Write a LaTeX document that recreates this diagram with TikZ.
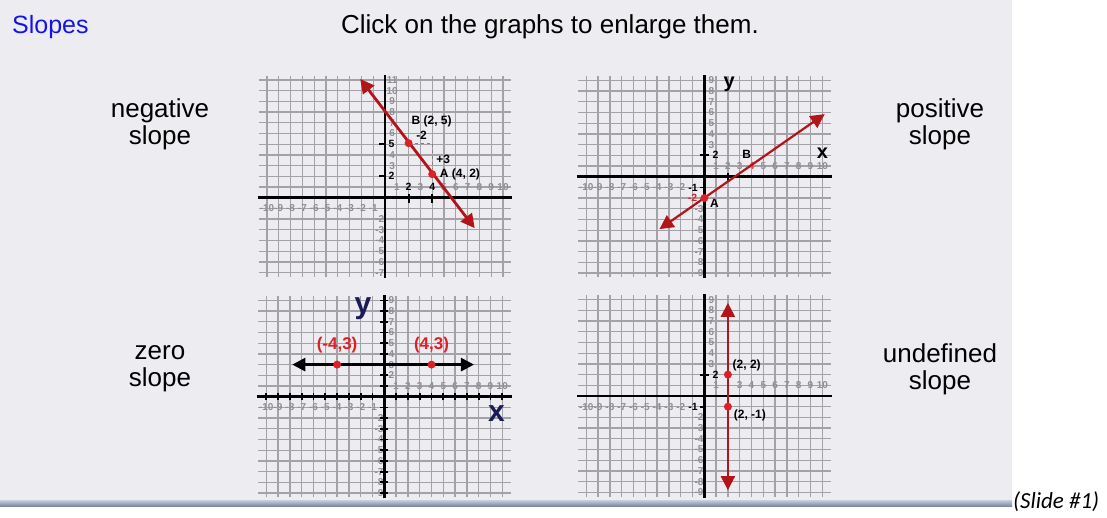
\documentclass[tikz,border=0pt]{standalone}
\usepackage{fontspec}
\setmainfont{Liberation Sans}
\newfontfamily\notefont{Carlito}
\usepackage{tikz}
\usetikzlibrary{arrows.meta}
\definecolor{slidebg}{HTML}{EDECF1}
\definecolor{gridgray}{HTML}{A2A2A7}
\definecolor{ticktext}{HTML}{8E8E94}
\definecolor{slopered}{HTML}{B3141C}
\definecolor{dotred}{HTML}{DD2027}
\definecolor{titleblue}{HTML}{1414E6}
\definecolor{axisnavy}{HTML}{1B1B55}
\definecolor{rulelight}{HTML}{C9D0DE}
\definecolor{ruledark}{HTML}{7D89A3}

% run #3 unless the label #1 is in the list #2
\makeatletter
\newcommand{\unlessbold}[3]{%
  \edef\boldtest{\noexpand\in@{,#1,}{,#2,}}\boldtest
  \ifin@\let\boldrun\relax\else\def\boldrun{#3}\fi\boldrun}
\makeatother

% one sheet of graph paper: #1 name prefix, #2 lowest y, #3 highest y,
% #4 labels that the graph prints itself
\newcommand{\slopegrid}[4]{%
  \foreach \i in {-10,...,10}
    {\draw[gridline] (\i,#2-0.4) -- (\i,#3+0.4);}
  \foreach \j in {#2,...,#3}
    {\draw[gridline] (-10.7,\j) -- (10.7,\j);}
  \foreach \i in {1,...,10}
    {\unlessbold{xp\i}{#4}{\node[tick] (#1xp\i) at (\i,1) {\i};}}
  \foreach \i in {-10,...,-1}
    {\unlessbold{xn\i}{#4}{\node[tick] (#1xn\i) at (\i,-1) {\i};}}
  \foreach \j in {2,...,#3}
    {\unlessbold{yp\j}{#4}{\node[tick] (#1yp\j) at (0.6,\j) {\j};}}
  \foreach \j in {#2,...,-2}
    {\unlessbold{yn\j}{#4}{\node[tick] (#1yn\j) at (-0.45,\j) {\j};}}
  \draw[axis] (-10.8,0) -- (10.8,0);
  \draw[axis] (0,#2-0.5) -- (0,#3+0.5);
}

\begin{document}
\begin{tikzpicture}[x=1pt,y=1pt,
  gridline/.style={draw=gridgray,line width=1.3pt},
  axis/.style={line width=2.6pt,black},
  ticks/.style={line width=1.8pt,black},
  tick/.style={font=\bfseries\fontsize{10}{10}\selectfont,text=ticktext,inner sep=0pt},
  hot/.style={font=\bfseries\fontsize{10.5}{11}\selectfont,inner sep=0.6pt},
  slopetext/.style={align=center,font=\fontsize{26}{27}\selectfont,inner sep=0pt},
  pointtext/.style={font=\bfseries\fontsize{12}{13}\selectfont,inner sep=0.5pt},
  redtext/.style={font=\bfseries\fontsize{17}{18}\selectfont,text=dotred,inner sep=0pt},
  reddot/.style={circle,fill=dotred,inner sep=0pt,minimum size=8pt},
  redline/.style={slopered,line width=2.8pt,<->,>={Triangle[length=14pt,width=14pt]}},
  flatline/.style={black,line width=2.6pt,<->,>={Triangle[length=13pt,width=13pt]}},
  run/.style={gray,line width=1pt,dashed}]
\useasboundingbox (0,0) rectangle (1107,-517);
\fill[slidebg] (0,0) rectangle (1012,-500);
\shade[top color=rulelight,bottom color=ruledark] (0,-500) rectangle (1012,-506);

\node[anchor=west,text=titleblue,font=\fontsize{25}{26}\selectfont,inner sep=0pt] (slopes) at (12,-27) {Slopes};
\node[font=\fontsize{26}{27}\selectfont,inner sep=0pt] (click) at (550,-27) {Click on the graphs to enlarge them.};
\node[anchor=west,font=\notefont\itshape\fontsize{23}{25}\selectfont,inner sep=0pt] (note) at (1013,-502) {(Slide \#1)};

\node[slopetext] (neg) at (160,-124) {negative\\slope};
\node[slopetext] (pos) at (940,-124) {positive\\slope};
\node[slopetext] (zer) at (160,-369) {zero\\slope};
\node[slopetext] (und) at (940,-369) {undefined\\slope};

% negative slope
\begin{scope}[shift={(385,-197.7)},x=11.8pt,y=10.7pt]
  \slopegrid{n}{-7}{11}{xp2,xp4,yp2,yp5}
  \draw[ticks] (-0.5,5) -- (0,5);
  \draw[ticks] (-0.5,2) -- (0,2);
  \draw[ticks] (2,-0.45) -- (2,0.3);
  \draw[ticks] (4,-0.45) -- (4,0.3);
  \node[hot] (n5) at (0.55,5) {5};
  \node[hot] (n2) at (0.55,2) {2};
  \node[hot] (nx2) at (2,1) {2};
  \node[hot] (nx4) at (4,1) {4};
  \coordinate (ntop) at (-2.1,11.1);
  \coordinate (nbot) at (7.6,-2.85);
  \coordinate (ncorner) at (4,5.1);
  \coordinate (nrise) at (4,2.7);
  \draw[run] (2,5.1) -- (ncorner) -- (nrise);
  \draw[redline] (ntop) -- (nbot);
  \node[reddot] (nB) at (2,5.1) {};
  \node[reddot] (nA) at (4,2.2) {};
  \node[pointtext] (nBt) at (3.95,7.1) {B (2, 5)};
  \node[pointtext,anchor=west] (nAt) at (4.6,2.2) {A (4, 2)};
  \node[pointtext] (nrun) at (3.1,5.8) {-2};
  \node[pointtext,anchor=west] (nup) at (4.3,3.6) {+3};
\end{scope}

% positive slope
\begin{scope}[shift={(704.3,-176.7)},x=11.8pt,y=10.7pt]
  \slopegrid{p}{-9}{9}{xp4,xn-1,yp2,yn-2}
  \draw[ticks] (-0.4,2) -- (0.4,2);
  \draw[ticks] (-0.4,-1) -- (0.1,-1);
  \draw[ticks] (2,-0.45) -- (2,0.3);
  \node[hot] (p2) at (0.95,2) {2};
  \node[hot] (pm1) at (-0.95,-1) {-1};
  \node[hot,text=dotred] (pm2) at (-1.0,-2) {-2};
  \node[hot,text=dotred!80] (p4) at (4,1) {4};
  \coordinate (plow) at (-3.8,-4.9);
  \coordinate (phigh) at (10.2,5.85);
  \draw[redline,line width=2.2pt] (plow) -- (phigh);
  \node[reddot] (pA) at (0,-2) {};
  \node[pointtext] (pAt) at (0.85,-2.45) {A};
  \node[pointtext] (pBt) at (3.6,2.1) {B};
  \node[font=\bfseries\fontsize{20}{20}\selectfont,inner sep=0pt] (px) at (10,2.2) {x};
  \node[font=\bfseries\fontsize{20}{20}\selectfont,inner sep=0pt] (py) at (2.1,8.6) {y};
\end{scope}

% zero slope
\begin{scope}[shift={(384.3,-396.7)},x=11.8pt,y=10.7pt]
  \slopegrid{z}{-9}{9}{}
  \foreach \i in {-10,...,10}
    \draw[ticks] (\i,-0.35) -- (\i,0.35);
  \foreach \j in {-9,...,9}
    \draw[ticks] (-0.35,\j) -- (0.35,\j);
  \coordinate (zleft) at (-7.8,3);
  \coordinate (zright) at (7.6,3);
  \draw[flatline] (zleft) -- (zright);
  \node[reddot] (zP) at (-4,3) {};
  \node[reddot] (zQ) at (4,3) {};
  \node[redtext] (zPt) at (-4,4.8) {(-4,3)};
  \node[redtext] (zQt) at (4,4.8) {(4,3)};
  \node[font=\bfseries\fontsize{30}{30}\selectfont,text=axisnavy,inner sep=0pt] (zy) at (-1.8,8.2) {y};
  \node[font=\bfseries\fontsize{30}{30}\selectfont,text=axisnavy,inner sep=0pt] (zx) at (9.5,-1.6) {x};
\end{scope}

% undefined slope
\begin{scope}[shift={(704.3,-396)},x=11.8pt,y=10.7pt]
  \slopegrid{u}{-9}{9}{xp2,xn-1,yp2}
  \draw[ticks] (-0.4,2) -- (0.4,2);
  \draw[ticks] (-0.4,-1) -- (0.1,-1);
  \node[hot] (u2) at (0.95,2) {2};
  \node[hot] (um1) at (-0.95,-1) {-1};
  \coordinate (utop) at (2,8.7);
  \coordinate (ubot) at (2,-8.8);
  \draw[redline,line width=2.2pt] (ubot) -- (utop);
  \node[reddot] (uP) at (2,2) {};
  \node[reddot] (uQ) at (2,-1) {};
  \node[pointtext,anchor=west] (uPt) at (2.35,2.9) {(2, 2)};
  \node[pointtext,anchor=west] (uQt) at (2.45,-1.8) {(2, -1)};
\end{scope}
\end{tikzpicture}
\end{document}
